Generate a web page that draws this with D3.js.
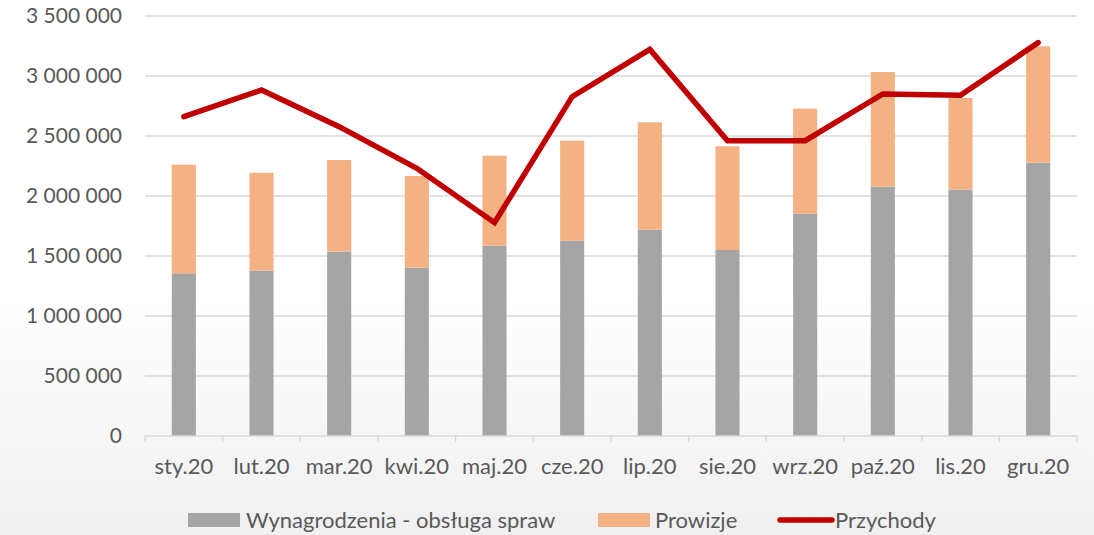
<!DOCTYPE html>
<html>
<head>
<meta charset="utf-8">
<script src="https://cdn.jsdelivr.net/npm/d3@7"></script>
<style>
html,body{margin:0;padding:0;background:#fff;}
svg{display:block;}
</style>
</head>
<body>
<svg id="chart" width="1094" height="535"></svg>
<script>
const categories = ["sty.20","lut.20","mar.20","kwi.20","maj.20","cze.20","lip.20","sie.20","wrz.20","paź.20","lis.20","gru.20"];
const wynagrodzenia = [1356000,1378000,1536000,1403000,1586000,1628000,1719000,1550000,1853000,2078000,2053000,2278000];
const prowizje = [905000,816000,764000,764000,750000,833000,895000,864000,875000,955000,764000,969000];
const przychody = [2661000,2883000,2578000,2231000,1778000,2828000,3222000,2461000,2461000,2850000,2839000,3278000];
const yTicks = [0,500000,1000000,1500000,2000000,2500000,3000000,3500000];
const seriesNames = ["Wynagrodzenia - obsługa spraw","Prowizje","Przychody"];

const W = 1094, H = 535;
const svg = d3.select("#chart");
const font = "Lato, 'Open Sans', sans-serif";
const textColor = "#595959";

const defs = svg.append("defs");
const grad = defs.append("linearGradient").attr("id","bg").attr("x1",0).attr("y1",0).attr("x2",0).attr("y2",1);
grad.append("stop").attr("offset","0%").attr("stop-color","#ffffff");
grad.append("stop").attr("offset","55%").attr("stop-color","#ffffff");
grad.append("stop").attr("offset","100%").attr("stop-color","#f0f0f0");
svg.append("rect").attr("width",W).attr("height",H).attr("fill","url(#bg)");

const x = d3.scaleBand().domain(categories).range([145,1077]).paddingInner(0.69).paddingOuter(0.345);
const y = d3.scaleLinear().domain([0,3500000]).range([436,16]);

const locale = d3.formatLocale({decimal:",", thousands:" ", grouping:[3], currency:["",""]});
const fmt = locale.format(",d");

// gridlines
svg.append("g").selectAll("line").data(yTicks.filter(d=>d>0)).join("line")
  .attr("x1",145).attr("x2",1077)
  .attr("y1",d=>y(d)).attr("y2",d=>y(d))
  .attr("stroke","#d9d9d9").attr("stroke-width",1.3);

// y labels
svg.append("g").selectAll("text").data(yTicks).join("text")
  .attr("x",122).attr("y",d=>y(d)).attr("dy","0.35em")
  .attr("text-anchor","end").attr("font-family",font).attr("font-size",21)
  .attr("fill",textColor).text(d=>fmt(d));

// stacked bars
const stackData = categories.map((c,i)=>({cat:c, w:wynagrodzenia[i], p:prowizje[i]}));
const stack = d3.stack().keys(["w","p"])(stackData);
const colors = {w:"#a5a5a5", p:"#f4b183"};
svg.append("g").selectAll("g").data(stack).join("g")
  .attr("fill",d=>colors[d.key])
  .selectAll("rect").data(d=>d).join("rect")
  .attr("x",d=>x(d.data.cat)).attr("width",x.bandwidth())
  .attr("y",d=>y(d[1])).attr("height",d=>y(d[0])-y(d[1]));

// x axis
const gx = svg.append("g").attr("transform","translate(0,436)");
gx.append("line").attr("x1",145).attr("x2",1077).attr("y1",0).attr("y2",0).attr("stroke","#d9d9d9").attr("stroke-width",1.3);
const bounds = d3.range(categories.length+1).map(i=>145 + x.step()*i);
gx.selectAll("line.tick").data(bounds).join("line").attr("class","tick")
  .attr("x1",d=>d).attr("x2",d=>d).attr("y1",0).attr("y2",6)
  .attr("stroke","#d9d9d9").attr("stroke-width",1.3);
gx.selectAll("text").data(categories).join("text")
  .attr("x",d=>x(d)+x.bandwidth()/2).attr("y",30).attr("dy","0.35em")
  .attr("text-anchor","middle").attr("font-family",font).attr("font-size",22)
  .attr("fill",textColor).text(d=>d);

// line
const line = d3.line().x((d,i)=>x(categories[i])+x.bandwidth()/2).y(d=>y(d));
svg.append("path").datum(przychody).attr("d",line)
  .attr("fill","none").attr("stroke","#c00000").attr("stroke-width",5.5)
  .attr("stroke-linejoin","miter").attr("stroke-linecap","round");

// legend
const lg = svg.append("g").attr("font-family",font).attr("font-size",22).attr("fill",textColor);
const ly = 520;
lg.append("rect").attr("x",188).attr("y",ly-7).attr("width",52).attr("height",14).attr("fill","#a5a5a5");
lg.append("text").attr("x",246).attr("y",ly).attr("dy","0.35em").text(seriesNames[0]);
lg.append("rect").attr("x",598).attr("y",ly-7).attr("width",52).attr("height",14).attr("fill","#f4b183");
lg.append("text").attr("x",655).attr("y",ly).attr("dy","0.35em").text(seriesNames[1]);
lg.append("line").attr("x1",780).attr("x2",832).attr("y1",ly).attr("y2",ly).attr("stroke","#c00000").attr("stroke-width",5.5).attr("stroke-linecap","round");
lg.append("text").attr("x",835).attr("y",ly).attr("dy","0.35em").text(seriesNames[2]);
</script>
</body>
</html>
